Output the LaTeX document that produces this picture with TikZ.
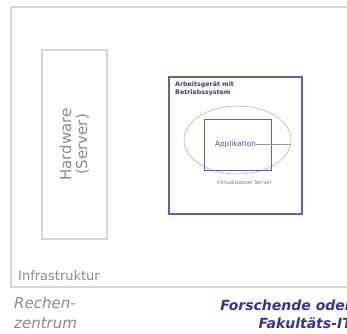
\documentclass[tikz,border=0pt]{standalone}
\usepackage{fontspec}
\setmainfont{DejaVu Sans}
\usepackage{tikz}
\definecolor{boxgray}{HTML}{D6D6D6}
\definecolor{txtgray}{HTML}{8A8A8A}
\definecolor{devblue}{HTML}{6060B0}
\definecolor{labblue}{HTML}{333399}
\definecolor{smalltxt}{HTML}{3C3C70}
\tikzset{gray box/.style={rectangle,draw=boxgray,line width=2pt,inner sep=0pt},
	blue box/.style={rectangle,draw=devblue,line width=1.3pt,inner sep=0pt},
	tiny label/.style={inner sep=0pt,text=smalltxt,font=\fontsize{6.3}{8.5}\selectfont\bfseries,align=left},
}
\usetikzlibrary{positioning,shapes.geometric}

\begin{document}
\begin{tikzpicture}[x=1pt,y=-1pt]
			\useasboundingbox (0,0) rectangle (347,333);
			\clip (0,0) rectangle (347,333);
			
			%% Rechenzentrum
			\node[gray box,minimum width=352pt,minimum height=280pt] (infra) at (187,147) {};
			\node[gray box,minimum width=65pt,minimum height=189pt] (hw) at (74.5,144.5) {};
			\node[rotate=90,align=center,text=txtgray,font=\fontsize{15}{16}\selectfont] (hwtext) at (hw.center) {Hardware\\(Server)};
			\node[anchor=west,inner sep=0pt,text=txtgray,font=\fontsize{13}{15}\selectfont] (infratext) at (18,276) {Infrastruktur};
			
			%% Forschende
			\node[blue box,minimum width=133pt,minimum height=137pt] (device) at (235.5,145.5) {};
			\node[tiny label,anchor=north west] (devtext) at (175,81) {Arbeitsgerät mit\\Betriebssystem};
			\node[ellipse,draw=gray!70,line width=0.5pt,minimum width=107pt,minimum height=68pt,inner sep=0pt] (virt) at (237.5,140) {};
			\node[blue box,line width=1pt,minimum width=67pt,minimum height=51pt] (appbox) at (237.5,144.5) {};
			\node[inner sep=0pt,text=devblue!80!black,font=\fontsize{7.3}{9}\selectfont] (app) at (235.5,144.5) {Applikation};
			\node[inner sep=0pt,text=txtgray!90!black,font=\fontsize{5.4}{7}\selectfont] (virttext) at (244.5,182) {Virtualisation Server};
			
			\path[draw,gray!80,line width=0.5pt]
			(app.east) -- (app.east -| virt.east)
			;
			
			%% labels below
			\node[anchor=west,inner sep=0pt,align=left,text=txtgray,font=\fontsize{15}{20}\itshape\selectfont] (rz) at (14,313) {Rechen-\\zentrum};
			\node[anchor=east,inner sep=0pt,align=right,text=labblue,font=\fontsize{14}{18}\bfseries\itshape\selectfont] (fit) at (352,314) {Forschende oder\\Fakultäts-IT};
			\end{tikzpicture}
\end{document}
